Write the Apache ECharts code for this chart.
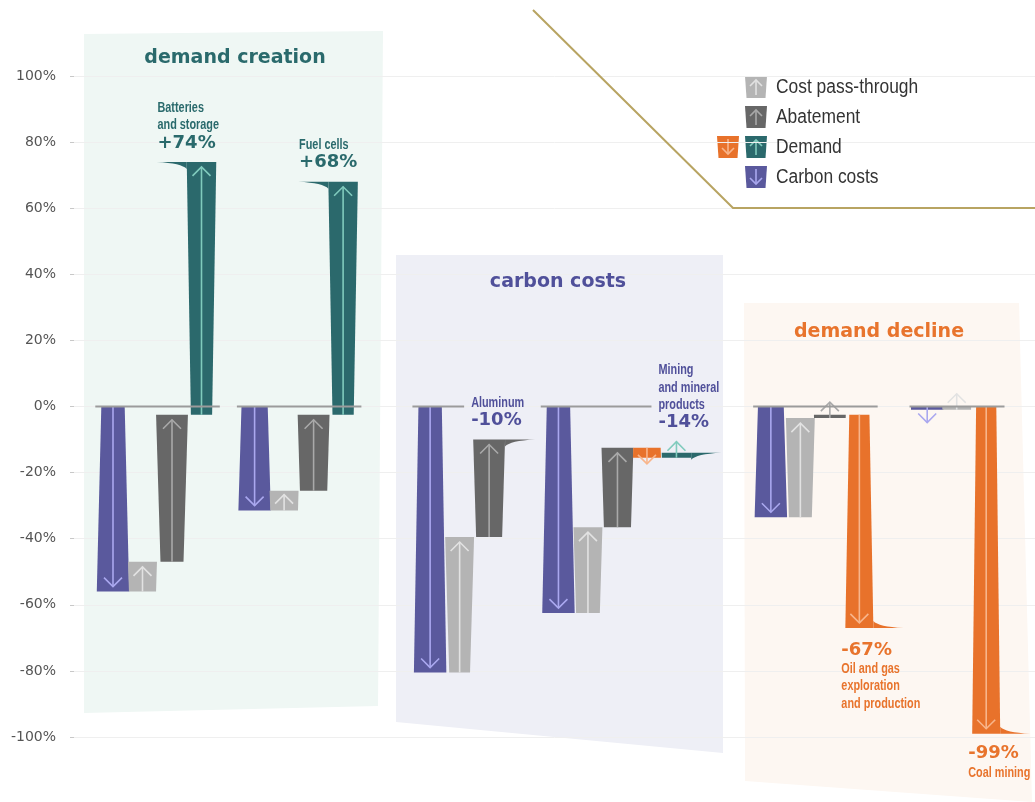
<!DOCTYPE html>
<html>
<head>
<meta charset="utf-8">
<title>Value change by driver</title>
<script src="https://cdn.jsdelivr.net/npm/echarts@6/dist/echarts.min.js"></script>
<style>
  html, body { margin: 0; padding: 0; background: #ffffff; }
  #chart { width: 1035px; height: 802px; }
</style>
</head>
<body>
<div id="chart"></div>
<script>
// ---- Data: change in value (percentage points) contributed by each driver ----
const industries      = ['Batteries\nand storage', 'Fuel cells', 'Aluminum', 'Mining\nand mineral\nproducts', 'Oil and gas\nexploration\nand production', 'Coal mining'];
const carbonCosts     = [-56, -31.5, -80.5, -62.5, -33.5, -1];
const costPassThrough = [9, 6, 41, 26, 30, 1];
const abatement       = [44.5, 23, 29.5, 24, 1, null];
const demandDecline   = [null, null, null, -3, -64.5, -99];
const demandGrowth    = [76.5, 70.5, null, 1.5, null, null];
const panelTitles     = ['demand creation', 'carbon costs', 'demand decline'];
const legendLabels    = ['Cost pass-through', 'Abatement', 'Demand', 'Carbon costs'];

// ---- Layout ----
const groupStart = [0, 4.8, 10.75, 15.1, 22.3, 27.6];    // first slot of each industry on the x scale
const groupPanel = [0, 0, 1, 1, 2, 2];
const flagSide   = [-1, -1, 1, 1, 1, 1];                  // side the closing flag points to
const labelSide  = ['above', 'above', 'above', 'above', 'below', 'below'];
const labelGap   = [9, 9, 9, 20, 12, 10];

const panelInk  = ['#2a6a6c', '#50509a', '#e8742d'];
const panelFill = ['#eff7f4', '#eeeff6', '#fdf7f2'];
const narrowFont = "'Liberation Sans', Arimo, Roboto, sans-serif";
const valueFont  = "'DejaVu Sans', 'Noto Sans', sans-serif";

const drivers = [
  { name: 'Carbon costs',      values: carbonCosts,     fill: '#5a599d', arrow: '#aaa8ef', width: 1.1,  dir: 1 },
  { name: 'Cost pass-through', values: costPassThrough, fill: '#b4b4b4', arrow: '#e2e2e2', width: 0.98, dir: -1 },
  { name: 'Abatement',         values: abatement,       fill: '#676767', arrow: '#a9a9a9', width: 1.08, dir: -1 },
  { name: 'Demand decline',    values: demandDecline,   fill: '#e8722b', arrow: '#f8b58b', width: 0.95, dir: 1 },
  { name: 'Demand growth',     values: demandGrowth,    fill: '#2b696c', arrow: '#80cbbd', width: 1.0,  dir: -1 }
];

// Waterfall steps: [x slot, level before, level after, industry, closing step?]
const stepData = drivers.map(() => []);
const groupData = [];
industries.forEach((name, g) => {
  let level = 0, slot = 0, last = null;
  drivers.forEach((d, i) => {
    const v = d.values[g];
    if (v == null) return;
    const item = { value: [groupStart[g] + slot, level, level + v, g, 0] };
    stepData[i].push(item);
    last = item;
    level += v;
    slot++;
  });
  last.value[4] = 1;
  groupData.push([groupStart[g], groupStart[g] + slot - 1, level, g]);
});

function arrowShapes(cx, from, tip, dir, color, size) {
  return [
    { type: 'line', shape: { x1: cx, y1: from, x2: cx, y2: tip }, style: { stroke: color, lineWidth: 1.6 } },
    { type: 'polyline', shape: { points: [[cx - size, tip - dir * size], [cx, tip], [cx + size, tip - dir * size]] },
      style: { stroke: color, lineWidth: 1.6, fill: null } }
  ];
}

function stepRenderer(d) {
  return function (params, api) {
    const x = api.value(0), v0 = api.value(1), v1 = api.value(2), g = api.value(3), closing = api.value(4);
    const a = api.coord([x, v0]), b = api.coord([x, v1]);
    const unit = api.size([1, 0])[0];
    const half = unit * d.width / 2;
    const cx = a[0], ys = a[1], ye = b[1];
    const len = Math.abs(ye - ys);
    const dir = ye >= ys ? 1 : -1;
    const inset = Math.min(half * 0.28, len * 0.03);
    const children = [{
      type: 'polygon',
      shape: { points: [[cx - half + inset, ys], [cx + half - inset, ys], [cx + half, ye], [cx - half, ye]] },
      style: { fill: d.fill }
    }];
    if (closing) {
      const side = flagSide[g];
      const edge = cx + side * half, tipX = edge + side * 30;
      children.push({
        type: 'path',
        shape: { pathData: 'M' + edge + ' ' + ye + ' L' + tipX + ' ' + ye +
          ' Q' + (edge + side * 5) + ' ' + (ye - dir * 1.2) + ' ' + edge + ' ' + (ye - dir * 7) + ' Z' },
        style: { fill: d.fill }
      });
    }
    const tip = len >= 22 ? ye - dir * 5 : ys + dir * 16;
    return { type: 'group', children: children.concat(arrowShapes(cx, ys, tip, dir, d.arrow, 9)) };
  };
}

function labelRenderer(params, api) {
  const x0 = api.value(0), x1 = api.value(1), total = api.value(2), g = api.value(3);
  const unit = api.size([1, 0])[0];
  const zero = api.coord([x0, 0]);
  const end = api.coord([x1, total]);
  const ink = panelInk[groupPanel[g]];
  const lx = end[0] + (flagSide[g] < 0 ? -44 : -18);
  const valueText = (total > 0 ? '+' : '') + Math.round(total) + '%';
  let lineEnd = end[0] + unit * 0.62;
  if (labelSide[g] === 'above' && total < 0) lineEnd = lx - 7;
  const children = [{
    type: 'line',
    shape: { x1: zero[0] - unit * 0.6, y1: zero[1], x2: lineEnd, y2: zero[1] },
    style: { stroke: '#9b9b9b', lineWidth: 2 }
  }];
  const valueStyle = { text: valueText, fill: ink, font: 'bold 18px ' + valueFont, lineHeight: 20, align: 'left' };
  const nameStyle = { text: industries[g], fill: ink, font: 'bold 15.5px ' + narrowFont, lineHeight: 17.5, align: 'left' };
  if (labelSide[g] === 'above') {
    const vb = end[1] - labelGap[g];
    children.push({ type: 'text', x: lx, y: vb, style: Object.assign({ verticalAlign: 'bottom' }, valueStyle) });
    children.push({ type: 'text', x: lx, y: vb - 19, scaleX: 0.7, style: Object.assign({ verticalAlign: 'bottom' }, nameStyle) });
  } else {
    const vt = end[1] + labelGap[g];
    children.push({ type: 'text', x: lx, y: vt, style: Object.assign({ verticalAlign: 'top' }, valueStyle) });
    children.push({ type: 'text', x: lx, y: vt + 20, scaleX: 0.7, style: Object.assign({ verticalAlign: 'top' }, nameStyle) });
  }
  return { type: 'group', children: children };
}

// ---- Background panels, titles and legend ----
const graphics = [
  { type: 'polygon', z: -10, silent: true, shape: { points: [[84, 34], [383, 31], [378, 706], [84, 713]] }, style: { fill: panelFill[0] } },
  { type: 'polygon', z: -10, silent: true, shape: { points: [[396, 255], [723, 255], [723, 753], [396, 722]] }, style: { fill: panelFill[1] } },
  { type: 'polygon', z: -10, silent: true, shape: { points: [[744, 303], [1019, 303], [1032, 802], [745, 781]] }, style: { fill: panelFill[2] } },
  { type: 'text', z: 10, x: 235, y: 58, style: { text: panelTitles[0], fill: panelInk[0], font: 'bold 19px ' + valueFont, align: 'center', verticalAlign: 'middle' } },
  { type: 'text', z: 10, x: 558, y: 282, style: { text: panelTitles[1], fill: panelInk[1], font: 'bold 19px ' + valueFont, align: 'center', verticalAlign: 'middle' } },
  { type: 'text', z: 10, x: 879, y: 332, style: { text: panelTitles[2], fill: panelInk[2], font: 'bold 19px ' + valueFont, align: 'center', verticalAlign: 'middle' } },
  { type: 'polyline', z: 10, silent: true, shape: { points: [[533, 10], [733, 208], [1035, 208]] }, style: { stroke: '#b8a462', lineWidth: 2, fill: null } }
];

function legendIcon(x, yc, fill, arrow, dir) {
  const cx = x + 11;
  const tip = yc + dir * 7;
  return {
    type: 'group', z: 10, children: [
      { type: 'polygon', shape: { points: [[x, yc - 11], [x + 22, yc - 11], [x + 20.5, yc + 11], [x + 1.5, yc + 11]] }, style: { fill: fill } },
      { type: 'line', shape: { x1: cx, y1: yc - dir * 8, x2: cx, y2: tip }, style: { stroke: arrow, lineWidth: 1.6 } },
      { type: 'polyline', shape: { points: [[cx - 6, tip - dir * 6], [cx, tip], [cx + 6, tip - dir * 6]] }, style: { stroke: arrow, lineWidth: 1.6, fill: null } }
    ]
  };
}
const legendRows = [[drivers[1]], [drivers[2]], [drivers[4], drivers[3]], [drivers[0]]];
legendRows.forEach((row, r) => {
  const yc = 87 + r * 30;
  row.forEach((d, k) => graphics.push(legendIcon(745 - k * 28, yc, d.fill, d.arrow, d.dir)));
  graphics.push({ type: 'text', z: 10, x: 776, y: yc, scaleX: 0.87, style: { text: legendLabels[r], fill: '#333333', font: '20px ' + narrowFont, align: 'left', verticalAlign: 'middle' } });
});

const chart = echarts.init(document.getElementById('chart'), null, { renderer: 'canvas' });
const series = drivers.map((d, i) => ({
  name: d.name,
  type: 'custom',
  coordinateSystem: 'cartesian2d',
  renderItem: stepRenderer(d),
  data: stepData[i],
  clip: false,
  z: 3,
  encode: { x: 0, y: [1, 2] }
}));
series.push({
  name: 'Industry',
  type: 'custom',
  coordinateSystem: 'cartesian2d',
  renderItem: labelRenderer,
  data: groupData,
  clip: false,
  z: 4,
  encode: { x: [0, 1], y: 2 }
});

chart.setOption({
  animation: false,
  backgroundColor: '#ffffff',
  grid: { left: 74, right: 0, top: 76, bottom: 65 },
  xAxis: { type: 'value', min: -1.322, max: 31.254, show: false },
  yAxis: {
    type: 'value', min: -100, max: 100, interval: 20, z: 1,
    axisLine: { show: false, onZero: false },
    axisTick: { show: true, length: 4, lineStyle: { color: '#c8c8c8' } },
    axisLabel: { formatter: '{value}%', color: '#555555', fontSize: 14, fontFamily: valueFont, margin: 18 },
    splitLine: { show: true, lineStyle: { color: '#efefef', width: 1 } }
  },
  graphic: graphics,
  series: series
});
</script>
</body>
</html>
